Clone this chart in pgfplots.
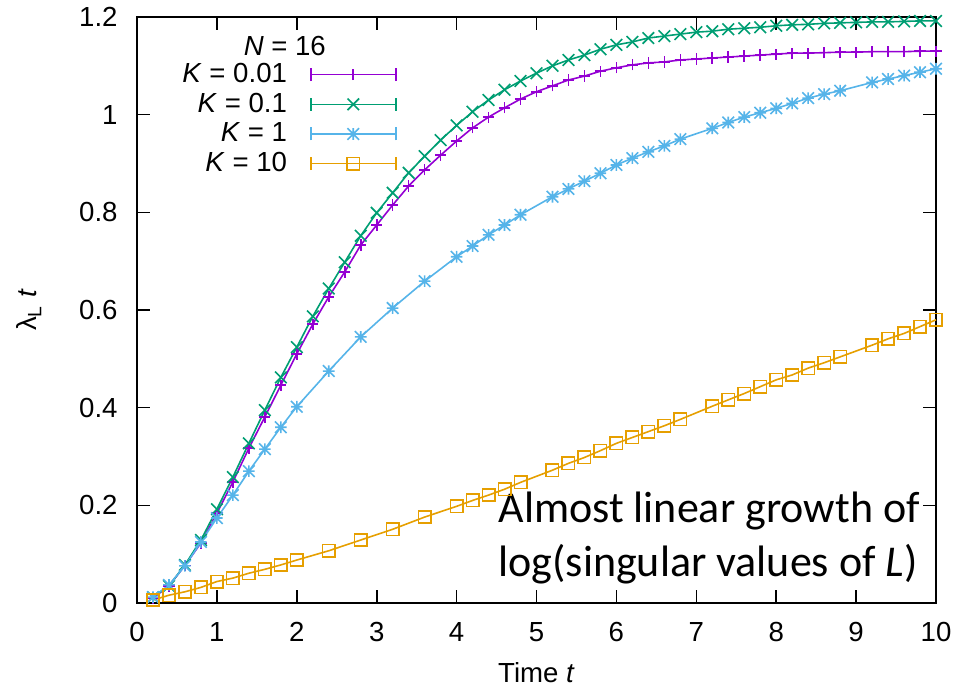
\documentclass[border=0pt]{standalone}
\usepackage{fontspec}
\setmainfont{Liberation Sans}
\newfontfamily\notefont{Carlito}
\usepackage{pgfplots}
\pgfplotsset{compat=1.18}
\usetikzlibrary{calc}

\definecolor{gpPurple}{HTML}{9400D3}
\definecolor{gpGreen}{HTML}{009E73}
\definecolor{gpBlue}{HTML}{56B4E9}
\definecolor{gpOrange}{HTML}{E69F00}

% gnuplot-like point types
\pgfdeclareplotmark{gpplus}{%
  \pgfpathmoveto{\pgfqpoint{-\pgfplotmarksize}{0pt}}\pgfpathlineto{\pgfqpoint{\pgfplotmarksize}{0pt}}%
  \pgfpathmoveto{\pgfqpoint{0pt}{-\pgfplotmarksize}}\pgfpathlineto{\pgfqpoint{0pt}{\pgfplotmarksize}}%
  \pgfusepathqstroke}
\pgfdeclareplotmark{gpcross}{%
  \pgfpathmoveto{\pgfqpoint{-\pgfplotmarksize}{-\pgfplotmarksize}}\pgfpathlineto{\pgfqpoint{\pgfplotmarksize}{\pgfplotmarksize}}%
  \pgfpathmoveto{\pgfqpoint{-\pgfplotmarksize}{\pgfplotmarksize}}\pgfpathlineto{\pgfqpoint{\pgfplotmarksize}{-\pgfplotmarksize}}%
  \pgfusepathqstroke}
\pgfdeclareplotmark{gpstar}{%
  \pgfpathmoveto{\pgfqpoint{-\pgfplotmarksize}{0pt}}\pgfpathlineto{\pgfqpoint{\pgfplotmarksize}{0pt}}%
  \pgfpathmoveto{\pgfqpoint{0pt}{-\pgfplotmarksize}}\pgfpathlineto{\pgfqpoint{0pt}{\pgfplotmarksize}}%
  \pgfpathmoveto{\pgfqpoint{-\pgfplotmarksize}{-\pgfplotmarksize}}\pgfpathlineto{\pgfqpoint{\pgfplotmarksize}{\pgfplotmarksize}}%
  \pgfpathmoveto{\pgfqpoint{-\pgfplotmarksize}{\pgfplotmarksize}}\pgfpathlineto{\pgfqpoint{\pgfplotmarksize}{-\pgfplotmarksize}}%
  \pgfusepathqstroke}

\pgfplotstableread{
t     v
0.2  0.010
0.4  0.035
0.6  0.077
0.8  0.123
1.0  0.184
1.2  0.248
1.4  0.317
1.6  0.381
1.8  0.446
2.0  0.510
2.2  0.571
2.4  0.627
2.6  0.678
2.8  0.733
3.0  0.774
3.2  0.815
3.4  0.854
3.6  0.887
3.8  0.917
4.0  0.946
4.2  0.973
4.4  0.995
4.6  1.014
4.8  1.032
5.0  1.047
5.2  1.059
5.4  1.071
5.6  1.079
5.8  1.089
6.0  1.096
6.2  1.102
6.4  1.106
6.6  1.108
6.8  1.112
7.0  1.114
7.2  1.116
7.4  1.118
7.6  1.120
7.8  1.122
8.0  1.124
8.2  1.126
8.4  1.126
8.6  1.127
8.8  1.128
9.0  1.128
9.2  1.129
9.4  1.129
9.6  1.129
9.8  1.130
10.0 1.130
}\Kpointzeroone

\pgfplotstableread{
t     v
0.2  0.012
0.4  0.035
0.6  0.078
0.8  0.129
1.0  0.192
1.2  0.258
1.4  0.327
1.6  0.395
1.8  0.462
2.0  0.524
2.2  0.587
2.4  0.644
2.6  0.698
2.8  0.752
3.0  0.799
3.2  0.840
3.4  0.881
3.6  0.915
3.8  0.948
4.0  0.978
4.2  1.006
4.4  1.030
4.6  1.051
4.8  1.069
5.0  1.085
5.2  1.100
5.4  1.112
5.6  1.122
5.8  1.134
6.0  1.143
6.2  1.149
6.4  1.157
6.6  1.161
6.8  1.165
7.0  1.169
7.2  1.171
7.4  1.175
7.6  1.177
7.8  1.179
8.0  1.182
8.2  1.184
8.4  1.185
8.6  1.187
8.8  1.188
9.0  1.189
9.2  1.190
9.4  1.190
9.6  1.191
9.8  1.192
10.0 1.192
}\Kpointone

\pgfplotstableread{
t     v
0.2  0.012
0.4  0.037
0.6  0.076
0.8  0.125
1.0  0.174
1.2  0.221
1.4  0.270
1.6  0.315
1.8  0.360
2.0  0.402
2.4  0.475
2.8  0.545
3.2  0.604
3.6  0.659
4.0  0.709
4.2  0.731
4.4  0.754
4.6  0.774
4.8  0.795
5.2  0.832
5.4  0.848
5.6  0.864
5.8  0.880
6.0  0.897
6.2  0.911
6.4  0.924
6.6  0.936
6.8  0.950
7.2  0.972
7.4  0.984
7.6  0.995
7.8  1.004
8.0  1.013
8.2  1.023
8.4  1.034
8.6  1.042
8.8  1.049
9.2  1.066
9.4  1.073
9.6  1.080
9.8  1.087
10.0 1.094
}\Kone

\pgfplotstableread{
t     v
0.2  0.006
0.4  0.016
0.6  0.023
0.8  0.032
1.0  0.044
1.2  0.051
1.4  0.061
1.6  0.069
1.8  0.078
2.0  0.088
2.4  0.107
2.8  0.129
3.2  0.151
3.6  0.176
4.0  0.198
4.2  0.210
4.4  0.221
4.6  0.233
4.8  0.247
5.2  0.272
5.4  0.286
5.6  0.298
5.8  0.312
6.0  0.327
6.2  0.339
6.4  0.351
6.6  0.363
6.8  0.376
7.2  0.403
7.4  0.416
7.6  0.429
7.8  0.443
8.0  0.457
8.2  0.467
8.4  0.481
8.6  0.492
8.8  0.504
9.2  0.528
9.4  0.541
9.6  0.552
9.8  0.566
10.0 0.580
}\Kten

\newcommand{\lblfont}{\fontsize{13.8}{16}\selectfont}
\newcommand{\notesize}{\notefont\fontsize{22}{27}\selectfont}

\begin{document}
\begin{tikzpicture}
\begin{axis}[
  name=ax,
  scale only axis,
  width=399.5pt, height=293pt,
  xmin=0, xmax=10, ymin=0, ymax=1.2,
  xtick={0,1,...,10},
  ytick={0,0.2,0.4,0.6,0.8,1,1.2},
  tick align=inside,
  major tick length=6.5pt,
  every tick/.style={black, line width=0.8pt},
  axis line style={line width=1.2pt},
  /pgf/number format/assume math mode=true,
  tick label style={font=\lblfont},
  yticklabel style={inner xsep=0pt, xshift=-9.5pt},
  xticklabel style={inner ysep=0pt, yshift=-9.5pt},
  xlabel={Time \textit{t}},
  ylabel={λ\textsubscript{L} \textit{t}},
  label style={font=\lblfont},
  xlabel style={at={([yshift=-39.5pt]axis description cs:0.5,0)}, anchor=base},
  ylabel style={at={([xshift=-50pt]axis description cs:0,0.5)}, anchor=base},
  clip=false,
  legend cell align=right,
  legend plot pos=right,
  legend style={draw=none, fill=none, font=\lblfont,
    at={(axis description cs:0.3254,0.9283)}, anchor=north east,
    inner sep=0pt, row sep=-0.25pt, column sep=9.5pt},
  legend image code/.code={
    \draw[#1,mark=none] (0pt,0pt) -- (42.5pt,0pt);
    \draw[#1,mark=none] (0pt,-3.25pt) -- (0pt,3.25pt) (42.5pt,-3.25pt) -- (42.5pt,3.25pt);
    \draw[#1] plot coordinates {(21.25pt,0pt)};
  },
]
\addplot[gpPurple, line width=0.8pt, mark=gpplus, mark size=2.8pt] table[x=t,y=v] {\Kpointzeroone};
\addlegendentry{\textit{K} = 0.01}
\addplot[gpGreen, line width=0.8pt, mark=gpcross, mark size=2.9pt] table[x=t,y=v] {\Kpointone};
\addlegendentry{\textit{K} = 0.1}
\addplot[gpBlue, line width=0.8pt, mark=gpstar, mark size=2.9pt] table[x=t,y=v] {\Kone};
\addlegendentry{\textit{K} = 1}
\addplot[gpOrange, line width=0.8pt, mark=square, mark size=3.1pt] table[x=t,y=v] {\Kten};
\addlegendentry{\textit{K} = 10}

\node[font=\lblfont, anchor=base] at (axis cs:1.85,1.122) {\textit{N} = 16};
\node[font=\notesize, anchor=base west, inner sep=0pt]
  at (axis cs:4.52,0.164) {Almost linear growth of};
\node[font=\notesize, anchor=base west, inner sep=0pt]
  at (axis cs:4.52,0.0534) {log(singular values of \textit{L})};
\end{axis}
\pgfresetboundingbox
\path[use as bounding box] ($(ax.south west)+(-68.5pt,-45pt)$) rectangle ($(ax.north east)+(12.5pt,8.5pt)$);
\end{tikzpicture}
\end{document}
